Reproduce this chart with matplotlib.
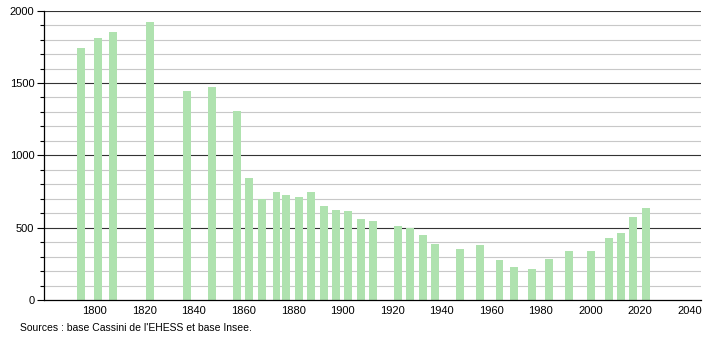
import matplotlib
matplotlib.use("Agg")
import matplotlib.pyplot as plt
from matplotlib.ticker import MultipleLocator

plt.rcParams['font.family'] = ['Liberation Sans', 'DejaVu Sans']

# census years and population
years = [1793, 1800, 1806, 1821, 1836, 1846, 1856, 1861, 1866, 1872, 1876,
         1881, 1886, 1891, 1896, 1901, 1906, 1911, 1921, 1926, 1931, 1936,
         1946, 1954, 1962, 1968, 1975, 1982, 1990, 1999, 2006, 2011, 2016, 2021]
population = [1744, 1808, 1852, 1921, 1447, 1470, 1306, 843, 698, 746, 726,
              712, 746, 650, 622, 615, 560, 546, 511, 498, 449, 387,
              352, 380, 276, 226, 214, 283, 339, 339, 426, 465, 574, 636]
xticks = [1800, 1820, 1840, 1860, 1880, 1900, 1920, 1940, 1960, 1980, 2000, 2020, 2040]
yticks = [0, 500, 1000, 1500, 2000]
source = "Sources : base Cassini de l'EHESS et base Insee."

fig = plt.figure(figsize=(7.1, 3.4), dpi=100)
ax = fig.add_axes([0.062, 0.1176, 0.925, 0.851])

# light grid every 100, dark every 500
for v in range(100, 2000, 100):
    if v % 500:
        ax.axhline(v, color='#c8c8c8', lw=0.8, zorder=0)
for v in yticks[1:]:
    ax.axhline(v, color='#333333', lw=0.8, zorder=0)

ax.bar([y - 0.3 for y in years], population, width=3.2, align='edge',
       color='#afe2af', zorder=2)

ax.set_xlim(1779.5, 2044.5)
ax.set_ylim(0, 2000)
ax.set_xticks(xticks)
ax.set_yticks(yticks)
ax.yaxis.set_minor_locator(MultipleLocator(100))
ax.tick_params(axis='x', length=0, labelsize=8, pad=4)
ax.tick_params(axis='y', which='major', length=5, width=0.8, labelsize=8, pad=2)
ax.tick_params(axis='y', which='minor', length=3, width=0.8)

for s in ['top', 'right']:
    ax.spines[s].set_visible(False)
ax.spines['left'].set_linewidth(0.9)
ax.spines['bottom'].set_linewidth(0.9)

fig.text(0.028, 0.035, source, fontsize=7.5, ha='left', va='center')

fig.savefig('out.png', dpi=100)
